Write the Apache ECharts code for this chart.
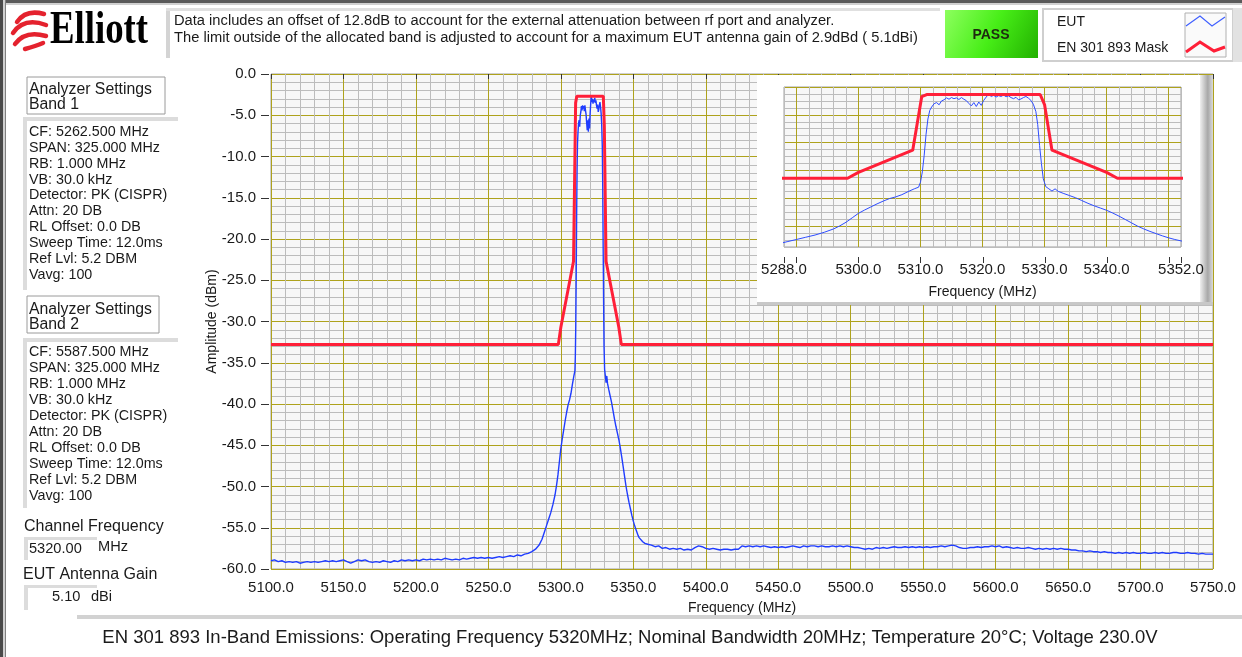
<!DOCTYPE html>
<html><head><meta charset="utf-8">
<script src="https://cdn.jsdelivr.net/npm/echarts@6/dist/echarts.min.js"></script>
<style>html,body{margin:0;padding:0;background:#fff;}#c{width:1242px;height:657px;}</style>
</head><body><div id="c"></div>
<script>
// ---------------- DATA ----------------
const headerLines = [
  'Data includes an offset of 12.8dB to account for the external attenuation between rf port and analyzer.',
  'The limit outside of the allocated band is adjusted to account for a maximum EUT antenna gain of 2.9dBd ( 5.1dBi)'
];
const band1Settings = ['CF: 5262.500 MHz','SPAN: 325.000 MHz','RB: 1.000 MHz','VB: 30.0 kHz','Detector: PK (CISPR)','Attn: 20 DB','RL Offset: 0.0 DB','Sweep Time: 12.0ms','Ref Lvl: 5.2 DBM','Vavg: 100'];
const band2Settings = ['CF: 5587.500 MHz','SPAN: 325.000 MHz','RB: 1.000 MHz','VB: 30.0 kHz','Detector: PK (CISPR)','Attn: 20 DB','RL Offset: 0.0 DB','Sweep Time: 12.0ms','Ref Lvl: 5.2 DBM','Vavg: 100'];
const channelFrequency = '5320.00';
const antennaGain = '5.10';
const captionText = 'EN 301 893 In-Band Emissions: Operating Frequency 5320MHz; Nominal Bandwidth 20MHz; Temperature 20°C; Voltage 230.0V';
const legendNames = ['EUT', 'EN 301 893 Mask'];
const insetXLabels = [5288, 5300, 5310, 5320, 5330, 5340, 5352];
const insetXTicks = [5288, 5290, 5300, 5310, 5320, 5330, 5340, 5350, 5352];

// EUT trace: [MHz, dBm]
const eutLow = [
 [5100,-59.0],[5102.5,-58.9],[5105,-59.1],[5107.5,-59.0],[5110,-59.2],[5112.5,-59.1],[5115,-59.2],[5117.5,-59.1],
 [5120,-59.3],[5122.5,-59.2],[5125,-59.1],[5127.5,-59.2],[5130,-59.1],[5132.5,-59.2],[5135,-59.1],[5137.5,-59.0],
 [5140,-59.1],[5142.5,-59.0],[5145,-59.1],[5147.5,-59.0],[5150,-58.9],[5152.5,-59.1],[5155,-59.3],[5157.5,-59.1],
 [5160,-58.9],[5162.5,-59.0],[5165,-58.9],[5167.5,-59.1],[5170,-59.2],[5172.5,-59.1],[5175,-59.2],[5177.5,-59.0],
 [5180,-59.1],[5182.5,-59.2],[5185,-59.0],[5187.5,-59.1],[5190,-58.9],[5192.5,-59.0],[5195,-58.9],[5197.5,-59.0],
 [5200,-58.9],[5202.5,-59.0],[5205,-58.8],[5207.5,-58.9],[5210,-58.8],[5212.5,-58.9],[5215,-58.8],[5217.5,-58.9],
 [5220,-58.7],[5222.5,-58.8],[5225,-58.9],[5227.5,-58.8],[5230,-58.9],[5232.5,-58.7],[5235,-58.8],[5237.5,-58.7],
 [5240,-58.6],[5242.5,-58.7],[5245,-58.6],[5247.5,-58.7],[5250,-58.6],[5252.5,-58.7],[5255,-58.6],[5257.5,-58.5],
 [5260,-58.6],[5262.5,-58.5],[5265,-58.4],[5267.5,-58.5],[5270,-58.3],[5272.5,-58.4],[5275,-58.2],[5277.5,-58.1]
];
const eutBand = [
 [5280,-57.9],[5282.5,-57.6],[5285,-57.1],[5287,-56.4],[5288.5,-55.6],[5290,-54.8],[5291.5,-54.0],[5293,-53.2],
 [5294.5,-52.2],[5296,-51.0],[5297,-49.9],[5298,-48.6],[5299,-47.0],[5300,-45.4],[5301,-44.2],[5302,-43.1],
 [5303,-42.0],[5304,-41.0],[5305,-40.1],[5306,-39.5],[5307,-38.7],[5308,-37.6],[5309,-36.6],[5309.7,-36.0],
 [5310,-34.2],[5310.3,-30.5],[5310.6,-24.5],[5310.9,-17.0],[5311.2,-11.5],[5311.5,-8.4],[5311.8,-7.2],[5312.2,-6.0],
 [5312.6,-5.6],[5313,-6.4],[5313.4,-5.0],[5313.8,-4.6],[5314.2,-3.9],[5314.6,-4.4],[5315,-3.8],[5315.4,-4.2],
 [5315.8,-3.9],[5316.2,-4.5],[5316.6,-3.8],[5317,-4.4],[5317.4,-4.9],[5317.8,-5.9],[5318.2,-6.8],[5318.6,-5.6],
 [5319,-7.0],[5319.4,-5.4],[5319.8,-6.6],[5320.2,-4.8],[5320.6,-3.6],[5321,-2.6],[5321.4,-3.4],[5321.8,-3.0],
 [5322.2,-3.6],[5322.6,-3.1],[5323,-3.4],[5323.4,-2.9],[5323.8,-3.5],[5324.2,-3.2],[5324.6,-3.8],[5325,-4.2],
 [5325.4,-3.7],[5325.8,-4.6],[5326.2,-4.3],[5326.6,-3.8],[5327,-3.4],[5327.4,-4.0],[5327.8,-4.8],[5328.2,-6.2],
 [5328.6,-8.8],[5328.9,-13.5],[5329.2,-21.0],[5329.5,-27.5],[5329.8,-33.0],[5330.2,-35.8],[5330.7,-36.6],[5331.2,-37.4],
 [5331.7,-36.6],[5332.2,-37.5],[5333,-38.2],[5334,-39.0],[5335,-39.8],[5336,-40.8],[5337,-41.8],[5338,-42.7],
 [5339,-43.5],[5340,-44.3],[5341,-45.3],[5342,-46.4],[5343,-47.6],[5344,-48.8],[5345,-50.0],[5346,-51.0],
 [5347,-51.9],[5348,-52.7],[5349,-53.5],[5350,-54.2],[5351,-54.8],[5352,-55.3],[5353,-55.8],[5354,-56.2],
 [5355,-56.4],[5356.5,-56.7],[5358,-56.9],[5360,-57.0]
];
const eutHigh = [
 [5362.5,-57.1],[5365,-57.3],[5367.5,-57.2],[5370,-57.5],[5372.5,-57.4],[5375,-57.6],[5377.5,-57.5],[5380,-57.6],
 [5382.5,-57.5],[5385,-57.7],[5387.5,-57.6],[5390,-57.7],[5392.5,-57.4],[5395,-57.2],[5397.5,-57.3],[5400,-57.5],
 [5402.5,-57.6],[5405,-57.5],[5407.5,-57.6],[5410,-57.7],[5412.5,-57.6],[5415,-57.6],[5417.5,-57.7],[5420,-57.6],
 [5422.5,-57.6],[5425,-57.2],[5427.5,-57.3],[5430,-57.2],[5432.5,-57.3],[5435,-57.2],[5437.5,-57.3],[5440,-57.2],
 [5442.5,-57.3],[5445,-57.4],[5447.5,-57.3],[5450,-57.4],[5452.5,-57.3],[5455,-57.4],[5457.5,-57.3],[5460,-57.2],
 [5462.5,-57.3],[5465,-57.4],[5467.5,-57.2],[5470,-57.3],[5472.5,-57.2],[5475,-57.2],[5477.5,-57.3],[5480,-57.2],
 [5482.5,-57.3],[5485,-57.3],[5487.5,-57.2],[5490,-57.3],[5492.5,-57.2],[5495,-57.3],[5497.5,-57.2],[5500,-57.3],
 [5502.5,-57.4],[5505,-57.4],[5507.5,-57.5],[5510,-57.6],[5512.5,-57.5],[5515,-57.6],[5517.5,-57.4],[5520,-57.5],
 [5522.5,-57.4],[5525,-57.5],[5527.5,-57.4],[5530,-57.3],[5532.5,-57.4],[5535,-57.4],[5537.5,-57.3],[5540,-57.4],
 [5542.5,-57.3],[5545,-57.4],[5547.5,-57.3],[5550,-57.4],[5552.5,-57.3],[5555,-57.4],[5557.5,-57.3],[5560,-57.3],
 [5562.5,-57.2],[5565,-57.3],[5567.5,-57.2],[5570,-57.1],[5572.5,-57.2],[5575,-57.4],[5577.5,-57.5],[5580,-57.5],
 [5582.5,-57.4],[5585,-57.4],[5587.5,-57.3],[5590,-57.4],[5592.5,-57.3],[5595,-57.3],[5597.5,-57.2],[5600,-57.3],
 [5602.5,-57.2],[5605,-57.4],[5607.5,-57.3],[5610,-57.4],[5612.5,-57.5],[5615,-57.4],[5617.5,-57.5],[5620,-57.5],
 [5622.5,-57.4],[5625,-57.5],[5627.5,-57.6],[5630,-57.5],[5632.5,-57.6],[5635,-57.5],[5637.5,-57.6],[5640,-57.5],
 [5642.5,-57.6],[5645,-57.5],[5647.5,-57.6],[5650,-57.6],[5652.5,-57.7],[5655,-57.7],[5657.5,-57.8],[5660,-57.8],
 [5662.5,-57.9],[5665,-57.8],[5667.5,-57.9],[5670,-57.9],[5672.5,-58.0],[5675,-57.9],[5677.5,-58.0],[5680,-58.0],
 [5682.5,-58.1],[5685,-58.0],[5687.5,-58.1],[5690,-58.0],[5692.5,-58.1],[5695,-58.0],[5697.5,-58.1],[5700,-58.1],
 [5702.5,-58.0],[5705,-58.1],[5707.5,-58.1],[5710,-58.0],[5712.5,-58.1],[5715,-58.0],[5717.5,-58.1],[5720,-58.1],
 [5722.5,-58.0],[5725,-58.0],[5727.5,-58.1],[5730,-58.1],[5732.5,-58.0],[5735,-58.1],[5737.5,-58.1],[5740,-58.2],
 [5742.5,-58.1],[5745,-58.2],[5747.5,-58.2],[5750,-58.2]
];
// EN 301 893 mask: [MHz, dBm]
const maskTrace = [
 [5100,-32.8],[5298.25,-32.8],[5300,-30.7],[5308.75,-22.7],[5310.2,-3.5],[5311,-2.7],
 [5329.3,-2.7],[5330,-6.3],[5331.2,-22.7],[5340,-30.7],[5341.75,-32.8],[5750,-32.8]
];

// ---------------- CHART ----------------
const FONT = "'Liberation Sans', Arial, sans-serif";
const OLIVE = '#aea21c', GRAY = '#bcbcbc', BLUE = '#1f3cff', RED = '#ff1f38';
const INSET_YMIN = -57.5;
const eutData = eutLow.concat(eutBand, eutHigh);
const chart = echarts.init(document.getElementById('c'), null, {renderer: 'canvas'});

function T(x, y, text, size, extra) {
  return Object.assign({type: 'text', x: x, y: y, z: 30,
    style: Object.assign({text: text, font: size + 'px ' + FONT, fill: '#1a1a1a', align: 'left', verticalAlign: 'middle'}, extra || {})});
}
function R(x, y, w, h, fill, extra) {
  return Object.assign({type: 'rect', z: 29, shape: {x: x, y: y, width: w, height: h}, style: {fill: fill}}, extra || {});
}
function B(x1, y1, cx, cy, x2, y2) {
  return {type: 'bezierCurve', z: 30, shape: {x1: x1, y1: y1, cpx1: cx, cpy1: cy, x2: x2, y2: y2},
    style: {stroke: '#e4222e', lineWidth: 4.5, fill: null, lineCap: 'round'}};
}

const elements = [
  // window frame
  R(0, 0, 1242, 3, '#5a5a5a'), R(0, 3, 1242, 2, '#d0d0d0'),
  R(0, 0, 3, 657, '#4a4a4a'), R(3, 0, 2, 657, '#d0d0d0'), R(5, 0, 1, 657, '#808080'),
  // logo
  B(17, 22, 26, 9, 44, 14), B(13, 33, 24, 17, 46, 25), B(15, 44, 25, 30, 46, 36), B(25, 49, 36, 46, 43, 43),
  {type: 'text', x: 50, y: 31, z: 30, scaleX: 0.8,
   style: {text: 'Elliott', font: 'bold 46px "Liberation Serif", "Times New Roman", serif', fill: '#000', align: 'left', verticalAlign: 'middle'}},
  // header text box (sunken: left & top edges)
  R(166, 8, 4, 50, '#d4d4d4'), R(166, 8, 774, 3, '#e0e0e0'),
  T(174, 21, headerLines[0], 14.7), T(174, 38, headerLines[1], 14.7),
  // PASS indicator
  {type: 'rect', z: 29, shape: {x: 945, y: 10, width: 93, height: 48},
   style: {fill: new echarts.graphic.LinearGradient(0, 0, 1, 1, [{offset: 0, color: '#8dff5e'}, {offset: 0.5, color: '#47ee17'}, {offset: 1, color: '#22b000'}])}},
  T(991, 35, 'PASS', 14, {font: 'bold 14px ' + FONT, align: 'center', fill: '#1e2a10'}),
  // legend box
  R(1043, 9, 190, 52, '#fff', {style: {fill: '#fff', stroke: '#cfcfcf', lineWidth: 2}}),
  R(1233, 8, 9, 54, '#e2e2e2'),
  T(1057, 22, legendNames[0], 14), T(1057, 48, legendNames[1], 14),
  R(1185, 13, 41, 44, '#fafafa', {style: {fill: '#fafafa', stroke: '#b0b0b0', lineWidth: 1}}),
  {type: 'polyline', z: 31, shape: {points: [[1186, 26], [1200, 16], [1212, 26], [1225, 17]]}, style: {stroke: '#4060ff', lineWidth: 1.2, fill: null}},
  {type: 'polyline', z: 31, shape: {points: [[1186, 52], [1200, 42], [1214, 51], [1225, 47]]}, style: {stroke: RED, lineWidth: 3, fill: null}},
  // Band 1
  R(27, 77, 138, 37, '#fff', {style: {fill: '#fff', stroke: '#9a9a9a', lineWidth: 1}}),
  T(29, 90, 'Analyzer Settings', 15.8), T(29, 105, 'Band 1', 15.8),
  R(23, 117, 4, 173, '#dcdcdc'), R(23, 117, 155, 4, '#dcdcdc'),
  T(29, 124, band1Settings.join('\n'), 14.3, {verticalAlign: 'top', lineHeight: 15.9}),
  // Band 2
  R(27, 296, 132, 37, '#fff', {style: {fill: '#fff', stroke: '#9a9a9a', lineWidth: 1}}),
  T(29, 310, 'Analyzer Settings', 15.8), T(29, 325, 'Band 2', 15.8),
  R(23, 338, 4, 170, '#dcdcdc'), R(23, 338, 155, 4, '#dcdcdc'),
  T(29, 344.5, band2Settings.join('\n'), 14.3, {verticalAlign: 'top', lineHeight: 16}),
  // Channel frequency / gain
  T(24, 527, 'Channel Frequency', 16),
  R(24, 537, 4, 23, '#dcdcdc'), R(24, 537, 73, 3, '#dcdcdc'),
  T(29, 549, channelFrequency, 14.6), T(98, 547, 'MHz', 14.6),
  T(23, 575, 'EUT Antenna Gain', 16),
  R(24, 585, 4, 25, '#dcdcdc'), R(24, 585, 73, 3, '#dcdcdc'),
  T(52, 597, antennaGain, 14.6), T(91, 597, 'dBi', 14.6),
  // inset panel
  R(757, 75, 449, 228, '#fff', {z: 20}),
  {type: 'rect', z: 20, shape: {x: 1200, y: 75, width: 13, height: 230},
   style: {fill: new echarts.graphic.LinearGradient(0, 0, 1, 0, [{offset: 0, color: '#f0f0f0'}, {offset: 0.6, color: '#a8a8a8'}, {offset: 1, color: '#dadada'}])}},
  R(757, 302, 456, 3, '#c8c8c8', {z: 20}),
  // caption
  R(77, 615, 1165, 4, '#d2d2d2'),
  T(630, 638, captionText, 18.5, {align: 'center'})
];

const fmt1 = v => v.toFixed(1);

chart.setOption({
  animation: false,
  textStyle: {fontFamily: FONT},
  grid: [
    {left: 271, top: 74, right: 29, bottom: 88, show: true, backgroundColor: '#f7f7f7', borderColor: '#a0a0a0', borderWidth: 1, z: 0},
    {left: 784, top: 87, right: 61, bottom: 410, show: true, backgroundColor: '#f7f7f7', borderColor: '#a0a0a0', borderWidth: 1, z: 21}
  ],
  xAxis: [
    {type: 'value', gridIndex: 0, position: 'bottom', min: 5100, max: 5750, interval: 50, offset: 2,
     name: 'Frequency (MHz)', nameLocation: 'middle', nameGap: 30, nameMoveOverlap: false, nameTextStyle: {fontSize: 14, color: '#1a1a1a'},
     axisLine: {show: false}, axisTick: {show: true, length: 5, lineStyle: {color: '#333'}},
     axisLabel: {formatter: fmt1, fontSize: 15, color: '#1a1a1a', margin: 9},
     splitLine: {show: true, lineStyle: {color: OLIVE, width: 1}},
     minorTick: {show: false, splitNumber: 5},
     minorSplitLine: {show: true, lineStyle: {color: GRAY, width: 1}}},
    {type: 'value', gridIndex: 1, position: 'bottom', min: 5288, max: 5352, interval: 2, offset: 9, z: 22,
     name: 'Frequency (MHz)', nameLocation: 'middle', nameGap: 29, nameMoveOverlap: false, nameTextStyle: {fontSize: 14, color: '#1a1a1a'},
     axisLine: {show: false},
     axisTick: {show: false},
     axisLabel: {customValues: insetXLabels, formatter: fmt1, fontSize: 15, color: '#1a1a1a', margin: 6},
     splitLine: {show: true, lineStyle: {color: [GRAY, OLIVE, GRAY, GRAY, GRAY], width: 1}}}
  ],
  yAxis: [
    {type: 'value', gridIndex: 0, min: -60, max: 0, interval: 5, offset: 2,
     name: 'Amplitude (dBm)', nameLocation: 'middle', nameGap: 50, nameMoveOverlap: false, nameTextStyle: {fontSize: 14, color: '#1a1a1a'},
     axisLine: {show: false}, axisTick: {show: true, length: 8, lineStyle: {color: '#333'}},
     axisLabel: {formatter: fmt1, fontSize: 15, color: '#1a1a1a', margin: 13},
     splitLine: {show: true, lineStyle: {color: OLIVE, width: 1}},
     minorTick: {show: false, splitNumber: 5},
     minorSplitLine: {show: true, lineStyle: {color: GRAY, width: 1}}},
    {type: 'value', gridIndex: 1, min: INSET_YMIN, max: 0, interval: 2.5, z: 22,
     axisLine: {show: false}, axisTick: {show: false}, axisLabel: {show: false},
     splitLine: {show: true, lineStyle: {color: [GRAY, GRAY, GRAY, OLIVE], width: 1}}}
  ],
  series: [
    {type: 'line', name: legendNames[0], xAxisIndex: 0, yAxisIndex: 0, data: eutData, showSymbol: false, symbol: 'none',
     lineStyle: {color: BLUE, width: 1.4}, z: 3},
    {type: 'line', name: legendNames[1], xAxisIndex: 0, yAxisIndex: 0, data: maskTrace, showSymbol: false, symbol: 'none',
     lineStyle: {color: RED, width: 3}, z: 4},
    {type: 'line', name: legendNames[0], xAxisIndex: 1, yAxisIndex: 1, data: eutData, showSymbol: false, symbol: 'none',
     lineStyle: {color: '#2d4cff', width: 1}, z: 24, clip: true},
    {type: 'line', name: legendNames[1], xAxisIndex: 1, yAxisIndex: 1, data: maskTrace, showSymbol: false, symbol: 'none',
     lineStyle: {color: RED, width: 3}, z: 25, clip: true}
  ],
  graphic: {elements: elements}
});

// inset x-axis tick marks, positioned through the inset axis scales
try {
  const yBase = chart.convertToPixel({yAxisIndex: 1}, INSET_YMIN);
  const tickEls = insetXTicks.map(function (v) {
    const x = Math.round(chart.convertToPixel({xAxisIndex: 1}, v)) + 0.5;
    return {type: 'line', z: 40, silent: true,
      shape: {x1: x, y1: yBase + 10, x2: x, y2: yBase + 16}, style: {stroke: '#333', lineWidth: 1}};
  });
  chart.setOption({graphic: {elements: elements.concat(tickEls)}});
} catch (e) { console.error(e); }
</script></body></html>
